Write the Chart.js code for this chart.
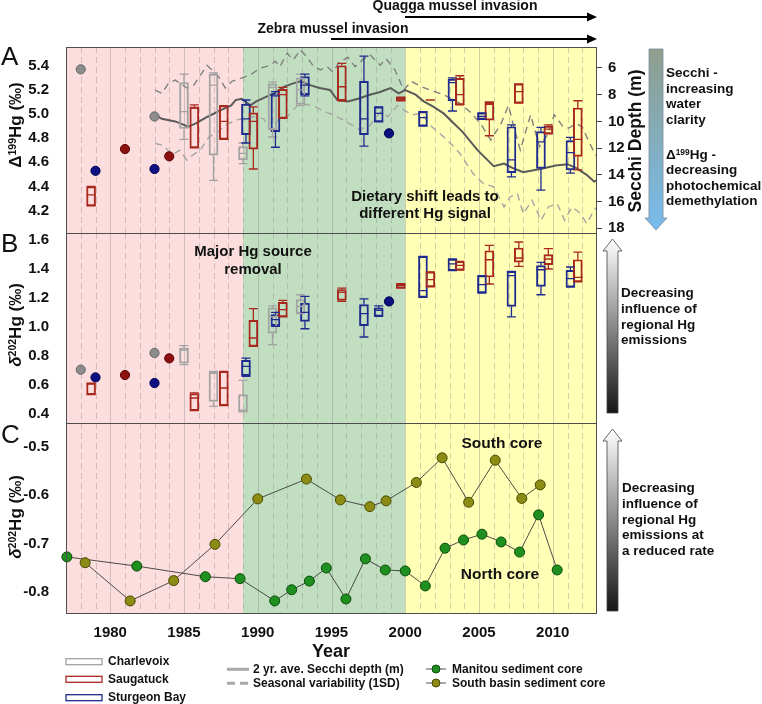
<!DOCTYPE html>
<html lang="en">
<head>
<meta charset="UTF-8">
<title>Hg isotopes – Lake Michigan</title>
<script src="https://cdn.jsdelivr.net/npm/chart.js"></script>
<style>
  body { margin: 0; background: #fff; }
  #page { position: relative; width: 762px; height: 704px; overflow: hidden;
          font-family: 'Liberation Sans', Arial, sans-serif; color: #111; }
  canvas { position: absolute; left: 0; }
  svg { position: absolute; left: 0; top: 0; }
  .t { position: absolute; font-weight: bold; white-space: nowrap; }
  .c { transform: translateX(-50%); text-align: center; }
  .rot { transform: translate(-50%, -50%) rotate(-90deg); }
  .letter { position: absolute; font-size: 26px; line-height: 26px; }
  sup { font-size: 0.62em; vertical-align: 0.5em; line-height: 0; }
</style>
</head>
<body>
<div id="page">
  <canvas id="panelA" width="660" height="226" style="top:27px"></canvas>
  <canvas id="panelB" width="660" height="230" style="top:213px"></canvas>
  <canvas id="panelC" width="660" height="250" style="top:403px"></canvas>

  <svg width="762" height="704">
    <defs>
      <linearGradient id="gSecchi" x1="0" y1="0" x2="0" y2="1">
        <stop offset="0" stop-color="#8e9e8c"/>
        <stop offset="1" stop-color="#78bcee"/>
      </linearGradient>
      <linearGradient id="gGrey" x1="0" y1="0" x2="0" y2="1">
        <stop offset="0" stop-color="#ffffff"/>
        <stop offset="1" stop-color="#151515"/>
      </linearGradient>
    </defs>
    <line x1="405" y1="17" x2="589" y2="17" stroke="#000" stroke-width="2"/>
    <polygon points="597,17 587,12.5 587,21.5" fill="#000"/>
    <line x1="331" y1="39" x2="589" y2="39" stroke="#000" stroke-width="2"/>
    <polygon points="597,39 587,34.5 587,43.5" fill="#000"/>
    <polygon points="649,49 663,49 663,218 667,218 656,230 645,218 649,218" fill="url(#gSecchi)" stroke="#7c8c98" stroke-width="0.8"/>
    <polygon points="612.5,239 622,251 618,251 618,413 607,413 607,251 603,251" fill="url(#gGrey)" stroke="#444" stroke-width="0.8"/>
    <polygon points="612.5,429 622,441 618,441 618,611 607,611 607,441 603,441" fill="url(#gGrey)" stroke="#444" stroke-width="0.8"/>
    <!-- legend symbols -->
    <rect x="66" y="658.7" width="36" height="6" fill="#fff" stroke="#a3a3a3" stroke-width="1.3"/>
    <rect x="66" y="676.3" width="36" height="6" fill="#fff" stroke="#a8281e" stroke-width="1.3"/>
    <rect x="66" y="694.7" width="36" height="6" fill="#fff" stroke="#1f2b8e" stroke-width="1.3"/>
    <line x1="227" y1="669.3" x2="249" y2="669.3" stroke="#a8a8a8" stroke-width="3"/>
    <line x1="227" y1="683.3" x2="249" y2="683.3" stroke="#a8a8a8" stroke-width="3" stroke-dasharray="8,5"/>
    <line x1="426" y1="669" x2="446" y2="669" stroke="#555" stroke-width="1"/>
    <circle cx="436" cy="669" r="4" fill="#1f8f1f" stroke="#0b4d0b"/>
    <line x1="426" y1="683" x2="446" y2="683" stroke="#555" stroke-width="1"/>
    <circle cx="436" cy="683" r="4" fill="#8c8c14" stroke="#4a4a00"/>
  </svg>

  <div class="letter" style="left:1px;top:43px">A</div>
  <div class="letter" style="left:1px;top:230px">B</div>
  <div class="letter" style="left:1px;top:421px">C</div>

  <div class="t c" style="left:455px;top:-3px;font-size:14px;line-height:16px">Quagga mussel invasion</div>
  <div class="t c" style="left:333px;top:20px;font-size:14px;line-height:16px">Zebra mussel invasion</div>

  <div class="t rot" style="left:16px;top:125px;font-size:17px">&Delta;<sup>199</sup>Hg (&permil;)</div>
  <div class="t rot" style="left:16px;top:325px;font-size:17px"><i>&delta;</i><sup>202</sup>Hg (&permil;)</div>
  <div class="t rot" style="left:16px;top:517px;font-size:17px"><i>&delta;</i><sup>202</sup>Hg (&permil;)</div>
  <div class="t rot" style="left:635px;top:141px;font-size:17.5px">Secchi Depth (m)</div>
  <div class="t c" style="left:331px;top:640px;font-size:18px;line-height:22px">Year</div>

  <div class="t c" style="left:425px;top:188px;font-size:15px;line-height:16.6px">Dietary shift leads to<br>different Hg signal</div>
  <div class="t c" style="left:253px;top:242px;font-size:15px;line-height:18.3px">Major Hg source<br>removal</div>
  <div class="t c" style="left:502px;top:434px;font-size:15.5px;line-height:18px">South core</div>
  <div class="t c" style="left:500px;top:565px;font-size:15.5px;line-height:18px">North core</div>

  <div class="t" style="left:666px;top:65px;font-size:13.5px;line-height:15.6px">Secchi -<br>increasing<br>water<br>clarity</div>
  <div class="t" style="left:666px;top:147px;font-size:13.5px;line-height:15.4px">&Delta;<sup>199</sup>Hg -<br>decreasing<br>photochemical<br>demethylation</div>
  <div class="t" style="left:621px;top:285px;font-size:13.5px;line-height:15.8px">Decreasing<br>influence of<br>regional Hg<br>emissions</div>
  <div class="t" style="left:622px;top:480px;font-size:13.5px;line-height:15.8px">Decreasing<br>influence of<br>regional Hg<br>emissions at<br>a reduced rate</div>

  <div class="t" style="left:108px;top:654px;font-size:12px;line-height:15px">Charlevoix</div>
  <div class="t" style="left:108px;top:672px;font-size:12px;line-height:15px">Saugatuck</div>
  <div class="t" style="left:108px;top:690px;font-size:12px;line-height:15px">Sturgeon Bay</div>
  <div class="t" style="left:253px;top:662px;font-size:12px;line-height:15px">2 yr. ave. Secchi depth (m)</div>
  <div class="t" style="left:253px;top:676px;font-size:12px;line-height:15px">Seasonal variability (1SD)</div>
  <div class="t" style="left:452px;top:662px;font-size:12px;line-height:15px">Manitou sediment core</div>
  <div class="t" style="left:452px;top:676px;font-size:12px;line-height:15px">South basin sediment core</div>
</div>

<script>
// ---- axes ----
const YEAR_MIN = 1977, YEAR_MAX = 2013;
const YEAR_TICKS = [1980, 1985, 1990, 1995, 2000, 2005, 2010];
const BAND_EDGES = [1977, 1989, 2000, 2013];
const BAND_COLORS = ['#fcdede', '#c1dfc0', '#ffffb6'];
const TICKS_A = [4.2, 4.4, 4.6, 4.8, 5.0, 5.2, 5.4];
const TICKS_SECCHI = [6, 8, 10, 12, 14, 16, 18];
const TICKS_B = [0.4, 0.6, 0.8, 1.0, 1.2, 1.4, 1.6];
const TICKS_C = [-0.8, -0.7, -0.6, -0.5];

// ---- panel A: D199Hg boxes [low, q1, median, q3, high] ----
const charXA = [1985.0, 1987.0, 1989.0, 1991.0, 1992.9];
const charA = [[4.79, 4.88, 5.02, 5.26, 5.33], [4.45, 4.66, 5.24, 5.33, 5.34], [4.59, 4.62, 4.675, 4.73, 4.76],
               [4.81, 4.87, 5.22, 5.25, 5.265], [5.07, 5.08, 5.20, 5.30, 5.33]];
const saugXA = [1978.7, 1985.7, 1987.7, 1989.7, 1991.7, 1995.7, 1999.7, 2001.7, 2003.7, 2005.7, 2007.7, 2009.7, 2011.7];
const saugA = [[4.24, 4.24, 4.33, 4.40, 4.40], [4.72, 4.72, 5.05, 5.06, 5.075], [4.79, 4.79, 4.94, 5.07, 5.07],
               [4.545, 4.71, 4.94, 5.01, 5.06], [4.965, 4.965, 5.16, 5.205, 5.22], [5.11, 5.11, 5.226, 5.40, 5.42],
               [5.11, 5.11, 5.125, 5.14, 5.14], [5.116, 5.116, 5.116, 5.116, 5.116], [5.075, 5.075, 5.16, 5.296, 5.317],
               [4.82, 4.95, 5.08, 5.097, 5.10], [5.09, 5.09, 5.185, 5.25, 5.25], [4.835, 4.835, 4.875, 4.90, 4.91],
               [4.537, 4.65, 4.79, 5.05, 5.11]];
const sturXA = [1989.2, 1991.2, 1993.2, 1997.2, 1998.2, 2001.2, 2003.2, 2005.2, 2007.2, 2009.2, 2011.2];
const sturA = [[4.76, 4.83, 4.96, 5.083, 5.116], [4.725, 4.855, 5.15, 5.17, 5.185], [5.15, 5.16, 5.24, 5.31, 5.33],
               [4.735, 4.83, 4.96, 5.27, 5.48], [4.936, 4.936, 5.006, 5.06, 5.06], [4.90, 4.90, 4.97, 5.02, 5.02],
               [5.025, 5.11, 5.26, 5.29, 5.30], [4.956, 4.956, 4.98, 5.01, 5.01], [4.48, 4.514, 4.62, 4.895, 4.91],
               [4.37, 4.55, 4.77, 4.855, 4.89], [4.51, 4.537, 4.68, 4.78, 4.807]];
// single samples
const charDotX = [1978.0, 1983.0], charDotA = [5.37, 4.98], charDotB = [0.705, 0.82];
const saugDotX = [1981.0, 1984.0], saugDotA = [4.71, 4.65], saugDotB = [0.668, 0.783];
const sturDotX = [1979.0, 1983.0, 1998.9], sturDotA = [4.53, 4.545, 4.84], sturDotB = [0.652, 0.613, 1.175];

// Secchi depth (m)
const secchiX = [1983.0, 1983.5, 1984.4, 1985.3, 1985.8, 1986.6, 1987.5, 1988.2, 1988.5, 1988.9, 1989.5, 1989.9, 1990.6,
                 1991.1, 1991.8, 1992.4, 1992.9, 1993.6, 1994.2, 1994.9, 1995.4, 1996.1, 1996.8, 1997.6, 1998.3, 1999.0,
                 1999.55, 2000.0, 2000.7, 2001.25, 2001.9, 2002.6, 2003.3, 2003.9, 2004.9, 2006.0, 2006.7, 2007.3, 2008.0,
                 2008.7, 2009.4, 2010.2, 2011.0, 2011.6, 2012.3, 2012.8, 2013.0];
const secchiAvg = [9.5, 9.8, 10.0, 10.4, 10.15, 9.65, 9.15, 8.8, 8.4, 8.3, 8.8, 8.5, 8.15, 7.9, 7.4, 7.15, 7.0, 7.3, 7.5,
                   7.65, 8.4, 8.5, 8.3, 8.0, 7.8, 7.5, 7.9, 7.65, 8.0, 8.5, 8.9, 9.4, 10.15, 10.8, 12.15, 13.35, 13.15,
                   13.5, 13.8, 13.65, 13.5, 13.3, 13.2, 13.5, 14.0, 14.5, 14.4];
const upperX = [1983.05, 1983.5, 1983.95, 1984.4, 1985.2, 1985.65, 1986.2, 1986.55, 1986.9, 1987.35, 1987.8, 1988.25,
                1988.8, 1989.5, 1990.2, 1990.85, 1991.2, 1991.5, 1992.0, 1992.4, 1992.9, 1993.3, 1993.8, 1994.25,
                1994.7, 1995.1, 1995.5, 1996.1, 1996.6, 1997.1, 1997.6, 1998.3, 1998.7, 1999.3, 1999.9, 2000.4, 2001.1,
                2001.7, 2002.6, 2003.3, 2003.7, 2004.4, 2005.1, 2005.8, 2006.5, 2007.0, 2007.3, 2007.8, 2008.5,
                2009.1, 2009.7, 2010.1, 2010.7, 2011.1, 2011.6, 2012.0, 2012.4, 2012.8, 2013.0];
const upperSD = [7.65, 7.9, 7.15, 6.9, 7.5, 7.3, 6.4, 5.8, 6.15, 6.65, 7.5, 7.0, 6.8, 6.5, 6.0, 5.8, 5.5, 5.9, 4.9, 5.4,
                 4.65, 5.15, 5.9, 6.15, 5.9, 6.3, 5.6, 5.2, 5.9, 5.4, 5.0, 5.8, 5.3, 6.15, 7.65, 7.0, 7.4, 7.65, 8.0,
                 8.4, 8.65, 9.3, 10.15, 11.4, 10.15, 8.8, 10.15, 12.15, 9.5, 11.9, 10.9, 9.5, 10.4, 10.5, 10.15, 10.4,
                 11.4, 12.3, 12.65];
const lowerX = [1983.05, 1983.6, 1984.2, 1984.7, 1985.2, 1985.6, 1986.1, 1986.7, 1987.2, 1987.8, 1988.5, 1989.0, 1989.7,
                1990.4, 1990.85, 1991.3, 1992.0, 1992.7, 1993.2, 1993.9, 1994.6, 1995.1, 1995.8, 1996.2, 1996.9,
                1997.6, 1998.3, 1998.8, 1999.5, 1999.9, 2000.5, 2001.1, 2001.8, 2002.6, 2003.3, 2003.7, 2004.6,
                2005.3, 2006.0, 2006.7, 2007.1, 2007.6, 2008.0, 2008.6, 2009.2, 2009.7, 2010.3, 2010.8, 2011.3,
                2011.9, 2012.3, 2012.8, 2013.0];
const lowerSD = [11.65, 11.8, 12.5, 12.15, 12.9, 12.5, 12.15, 11.15, 10.9, 10.3, 9.9, 9.8, 9.65, 9.8, 10.65, 10.0, 9.65,
                 8.8, 8.7, 8.9, 9.3, 9.5, 9.9, 10.15, 10.6, 10.3, 9.3, 9.65, 8.8, 9.15, 9.5, 9.4, 10.4, 11.15, 11.9,
                 12.4, 13.9, 14.65, 14.9, 16.4, 15.65, 15.4, 16.9, 15.9, 17.4, 16.4, 16.15, 17.4, 16.4, 16.9, 17.65,
                 16.65, 16.4];

// ---- panel B: d202Hg boxes ----
const charB = [[0.74, 0.75, 0.84, 0.854, 0.87], [0.453, 0.487, 0.69, 0.687, 0.694], [0.414, 0.418, 0.425, 0.533, 0.632],
               [0.877, 0.957, 1.07, 1.13, 1.145], [1.091, 1.091, 1.14, 1.187, 1.221]];
const saugB = [[0.533, 0.533, 0.61, 0.613, 0.613], [0.423, 0.423, 0.51, 0.54, 0.545], [0.457, 0.457, 0.579, 0.694, 0.694],
               [0.866, 0.866, 0.923, 1.045, 1.125], [1.068, 1.068, 1.118, 1.169, 1.182], [1.175, 1.182, 1.237, 1.256, 1.267],
               [1.267, 1.267, 1.285, 1.297, 1.297], [1.275, 1.275, 1.325, 1.378, 1.378], [1.39, 1.39, 1.423, 1.45, 1.45],
               [1.295, 1.343, 1.462, 1.524, 1.561], [1.416, 1.446, 1.474, 1.543, 1.584], [1.398, 1.428, 1.467, 1.497, 1.538],
               [1.309, 1.309, 1.34, 1.462, 1.515]];
const sturB = [[0.659, 0.664, 0.728, 0.769, 0.785], [1.003, 1.008, 1.05, 1.084, 1.10], [0.987, 1.038, 1.10, 1.164, 1.21],
               [0.93, 1.008, 1.091, 1.153, 1.192], [1.072, 1.072, 1.114, 1.13, 1.145], [1.203, 1.203, 1.249, 1.485, 1.485],
               [1.387, 1.387, 1.433, 1.467, 1.467], [1.233, 1.233, 1.29, 1.352, 1.352], [1.068, 1.141, 1.352, 1.382, 1.382],
               [1.221, 1.279, 1.393, 1.421, 1.444], [1.274, 1.274, 1.332, 1.389, 1.412]];

// ---- panel C: sediment cores ----
const southX = [1978.3, 1981.35, 1984.3, 1987.1, 1990.0, 1993.3, 1995.6, 1997.6, 1998.7, 2000.75, 2002.5, 2004.3, 2006.1, 2007.9, 2009.15];
const southY = [-0.740, -0.819, -0.777, -0.702, -0.608, -0.567, -0.610, -0.624, -0.612, -0.574, -0.523, -0.615, -0.528, -0.607, -0.579];
const northX = [1977.06, 1981.8, 1986.45, 1988.8, 1991.15, 1992.3, 1993.5, 1994.65, 1995.98, 1997.3, 1998.65, 2000.0,
                2001.36, 2002.7, 2003.95, 2005.2, 2006.5, 2007.75, 2009.04, 2010.3];
const northY = [-0.728, -0.747, -0.769, -0.773, -0.819, -0.796, -0.778, -0.751, -0.815, -0.732, -0.755, -0.757,
                -0.788, -0.710, -0.693, -0.681, -0.697, -0.718, -0.641, -0.755];

const CHAR = '#a3a3a3', SAUG = '#a8281e', STUR = '#1f2b8e';
const BOX_W = 9;
const FONT = { family: "'Liberation Sans', Arial, sans-serif", size: 15, weight: 'bold' };
Chart.defaults.color = '#111';
Chart.defaults.font.family = FONT.family;

function boxSet(xs, boxes, color) {
  return {
    type: 'bar', boxes, xs, yAxisID: 'y', order: 2,
    data: xs.map((x, i) => ({ x, y: [boxes[i][1], boxes[i][3]] })),
    backgroundColor: 'rgba(0,0,0,0)', borderColor: color, borderWidth: 1.3,
    borderSkipped: false, barThickness: BOX_W, grouped: false
  };
}
function dotSet(xs, ys, fill, edge) {
  return {
    type: 'scatter', yAxisID: 'y', order: 1, clip: false,
    data: xs.map((x, i) => ({ x, y: ys[i] })),
    pointRadius: 4.6, pointBackgroundColor: fill, pointBorderColor: edge, pointBorderWidth: 1
  };
}
function lineSet(xs, ys, color, width, dash) {
  return {
    type: 'line', yAxisID: 'secchi', order: 3,
    data: xs.map((x, i) => ({ x, y: ys[i] })),
    borderColor: color, borderWidth: width, borderDash: dash, pointRadius: 0, tension: 0, fill: false
  };
}
function coreSet(xs, ys, fill, edge) {
  return {
    type: 'line', yAxisID: 'y', clip: false,
    data: xs.map((x, i) => ({ x, y: ys[i] })),
    borderColor: '#3a3a3a', borderWidth: 0.9, tension: 0, fill: false,
    pointRadius: 5, pointBackgroundColor: fill, pointBorderColor: edge, pointBorderWidth: 1
  };
}

// bands, yearly grid, whiskers, frame
const backdrop = {
  id: 'backdrop',
  beforeDatasetsDraw(chart) {
    const { ctx, chartArea: a, scales: { x } } = chart;
    ctx.save();
    for (let i = 0; i < BAND_EDGES.length - 1; i++) {
      const x0 = x.getPixelForValue(BAND_EDGES[i]), x1 = x.getPixelForValue(BAND_EDGES[i + 1]);
      ctx.fillStyle = BAND_COLORS[i];
      ctx.fillRect(x0, a.top, x1 - x0, a.bottom - a.top);
    }
    ctx.lineWidth = 1;
    ctx.strokeStyle = 'rgba(140,140,140,0.4)';
    for (let yr = YEAR_MIN + 1; yr < YEAR_MAX; yr++) {
      const px = Math.round(x.getPixelForValue(yr)) + 0.5;
      ctx.setLineDash(yr % 5 === 0 ? [] : [6, 4]);
      ctx.beginPath();
      ctx.moveTo(px, a.top);
      ctx.lineTo(px, a.bottom);
      ctx.stroke();
    }
    ctx.restore();
  },
  afterDatasetsDraw(chart) {
    const { ctx, chartArea: a, scales } = chart;
    ctx.save();
    chart.data.datasets.forEach(ds => {
      if (!ds.boxes) return;
      const y = scales[ds.yAxisID];
      ctx.strokeStyle = ds.borderColor;
      ctx.lineWidth = 1.3;
      ds.boxes.forEach((b, j) => {
        const cx = scales.x.getPixelForValue(ds.xs[j]);
        const [lo, q1, md, q3, hi] = b.map(v => y.getPixelForValue(v));
        const h = BOX_W / 2;
        ctx.beginPath();
        ctx.moveTo(cx, lo); ctx.lineTo(cx, q1);
        ctx.moveTo(cx, q3); ctx.lineTo(cx, hi);
        ctx.moveTo(cx - h, lo); ctx.lineTo(cx + h, lo);
        ctx.moveTo(cx - h, hi); ctx.lineTo(cx + h, hi);
        ctx.moveTo(cx - h, md); ctx.lineTo(cx + h, md);
        ctx.stroke();
      });
    });
    ctx.strokeStyle = '#4d4d4d';
    ctx.lineWidth = 1;
    ctx.strokeRect(Math.round(a.left) + 0.5, Math.round(a.top) + 0.5,
                   Math.round(a.right - a.left) - 1, Math.round(a.bottom - a.top));
    ctx.restore();
  }
};

function leftAxis(min, max, ticks) {
  return {
    position: 'left', min, max,
    afterFit: s => { s.width = 66; },
    afterBuildTicks: s => { s.ticks = ticks.map(v => ({ value: v })); },
    grid: { display: false }, border: { display: false },
    ticks: { font: FONT, padding: 9, color: '#111', callback: v => v.toFixed(1) }
  };
}
function xAxis(show) {
  return {
    type: 'linear', min: YEAR_MIN, max: YEAR_MAX, offset: false, display: show,
    afterFit: s => { s.height = show ? 40 : 0; },
    afterBuildTicks: s => { s.ticks = YEAR_TICKS.map(v => ({ value: v })); },
    grid: { display: false }, border: { display: false },
    ticks: { font: FONT, padding: 3, color: '#111', autoSkip: false, maxRotation: 0, callback: v => String(v) }
  };
}
function baseOptions(padding, scales) {
  return {
    responsive: false, animation: false, maintainAspectRatio: false,
    layout: { padding },
    plugins: { legend: { display: false }, tooltip: { enabled: false } },
    scales
  };
}

new Chart(document.getElementById('panelA'), {
  type: 'scatter',
  data: { datasets: [
    dotSet(charDotX, charDotA, '#8c8c8c', '#666'),
    dotSet(saugDotX, saugDotA, '#8b1010', '#5a0000'),
    dotSet(sturDotX, sturDotA, '#0c1080', '#000050'),
    boxSet(charXA, charA, CHAR),
    boxSet(saugXA, saugA, SAUG),
    boxSet(sturXA, sturA, STUR),
    lineSet(secchiX, secchiAvg, '#5a5a5a', 2, []),
    lineSet(upperX, upperSD, '#808080', 1.4, [7, 5]),
    lineSet(lowerX, lowerSD, '#a5a5a5', 1.4, [7, 5])
  ] },
  options: baseOptions({ top: 20, bottom: 20, left: 0, right: 0 }, {
    x: xAxis(false),
    y: leftAxis(4.015, 5.555, TICKS_A),
    secchi: {
      position: 'right', reverse: true, min: 4.43, max: 18.35,
      afterFit: s => { s.width = 63; },
      afterBuildTicks: s => { s.ticks = TICKS_SECCHI.map(v => ({ value: v })); },
      grid: { display: true, drawOnChartArea: false, drawTicks: true, tickLength: 5, color: '#444' },
      border: { display: false },
      ticks: { font: FONT, padding: 6, color: '#111', callback: v => String(v) }
    }
  }),
  plugins: [backdrop]
});

new Chart(document.getElementById('panelB'), {
  type: 'scatter',
  data: { datasets: [
    dotSet(charDotX, charDotB, '#8c8c8c', '#666'),
    dotSet(saugDotX, saugDotB, '#8b1010', '#5a0000'),
    dotSet(sturDotX, sturDotB, '#0c1080', '#000050'),
    boxSet(charXA, charB, CHAR),
    boxSet(saugXA, saugB, SAUG),
    boxSet(sturXA, sturB, STUR)
  ] },
  options: baseOptions({ top: 20, bottom: 20, left: 0, right: 63 }, {
    x: xAxis(false),
    y: leftAxis(0.338, 1.646, TICKS_B)
  }),
  plugins: [backdrop]
});

new Chart(document.getElementById('panelC'), {
  type: 'scatter',
  data: { datasets: [
    coreSet(southX, southY, '#8c8c14', '#4a4a00'),
    coreSet(northX, northY, '#1f8f1f', '#0b4d0b')
  ] },
  options: baseOptions({ top: 20, bottom: 0, left: 0, right: 63 }, {
    x: xAxis(true),
    y: leftAxis(-0.844, -0.451, TICKS_C)
  }),
  plugins: [backdrop]
});
</script>
</body>
</html>
